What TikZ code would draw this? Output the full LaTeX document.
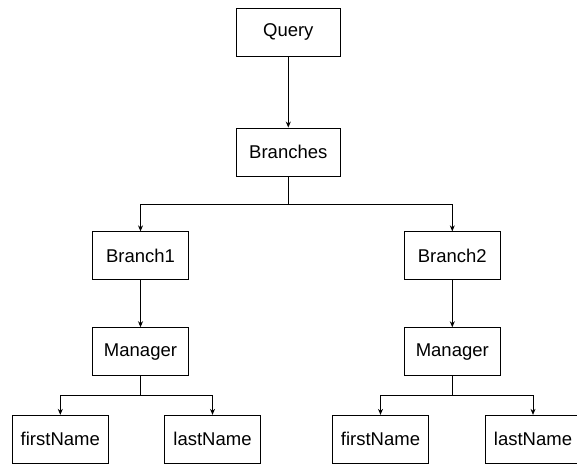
\documentclass[tikz,border=0pt]{standalone}
\usepackage{fontspec}
\setmainfont{Liberation Sans}
\usetikzlibrary{arrows.meta}
\begin{document}
\begin{tikzpicture}[x=1pt,y=-1pt,
  box/.style={draw, line width=0.9pt, minimum height=48pt, inner sep=0pt, font=\fontsize{18.5}{22}\selectfont},
  wide/.style={box, minimum width=104pt},
  narrow/.style={box, minimum width=96pt},
  conn/.style={line width=0.9pt, -{Stealth[length=6pt,width=5pt]}}]
\useasboundingbox (0,0) rectangle (577,464);
\clip (0,0) rectangle (577,464);
\node[wide] (q) at (288.3,32) {Query};
\node[wide] (br) at (288.3,152) {Branches};
\node[narrow] (b1) at (140.5,255.8) {Branch1};
\node[narrow] (b2) at (452.3,255.8) {Branch2};
\node[narrow] (m1) at (140.5,351.7) {Manager};
\node[narrow] (m2) at (452.3,351.7) {Manager};
\node[narrow] (f1) at (60.3,439.3) {firstName};
\node[narrow] (l1) at (212.5,439.3) {lastName};
\node[narrow] (f2) at (380.5,439.3) {firstName};
\node[narrow] (l2) at (533,439.3) {lastName};
\draw[conn] (q) -- (br);
\draw[conn] (br.south) -- ++(0,27.7) -| (b1.north);
\draw[conn] (br.south) -- ++(0,27.7) -| (b2.north);
\draw[conn] (b1) -- (m1);
\draw[conn] (b2) -- (m2);
\draw[conn] (m1.south) -- ++(0,19.6) -| (f1.north);
\draw[conn] (m1.south) -- ++(0,19.6) -| (l1.north);
\draw[conn] (m2.south) -- ++(0,19.6) -| (f2.north);
\draw[conn] (m2.south) -- ++(0,19.6) -| (l2.north);
\end{tikzpicture}
\end{document}
